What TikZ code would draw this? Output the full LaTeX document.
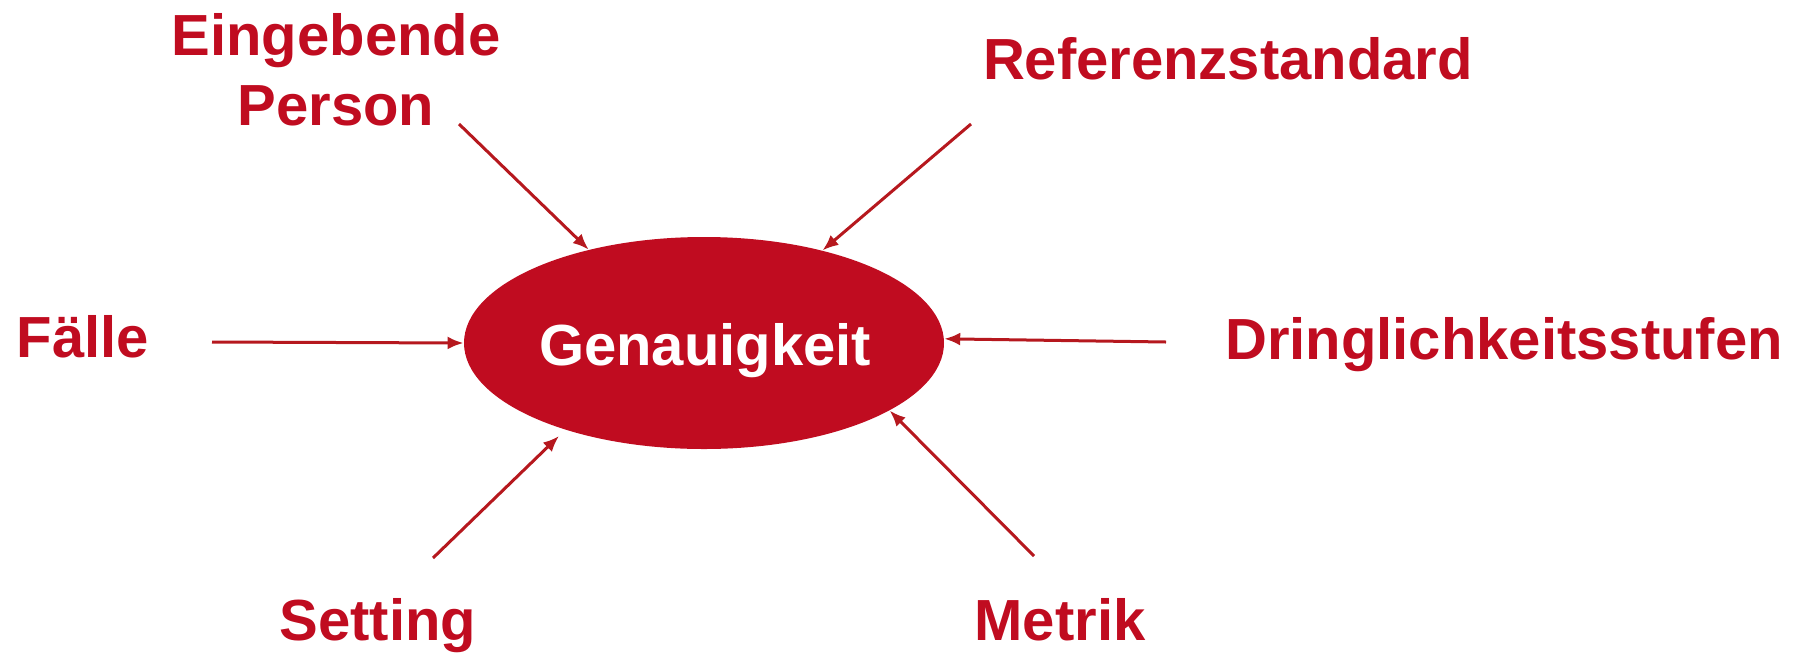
\documentclass[tikz,border=0pt]{standalone}
\usepackage{fontspec}
\setmainfont{Liberation Sans}
\usepackage{xcolor}
\usetikzlibrary{shapes.geometric,arrows.meta}
\definecolor{genred}{RGB}{192,12,32}
\definecolor{arrred}{RGB}{182,24,30}

\begin{document}
\begin{tikzpicture}[x=0.5pt, y=-0.5pt, >={Latex[length=8pt,width=6.5pt]},
  lbl/.style={text=genred, font=\fontsize{29}{35}\selectfont\bfseries, anchor=base, align=center, inner sep=0pt},
  arr/.style={->, draw=arrred, line width=1.5pt}]
  \useasboundingbox (0,0) rectangle (1816,654);

  \node[ellipse, fill=genred, minimum width=240pt, minimum height=106pt, inner sep=0pt]
    (gen) at (704,343) {};
  \node[lbl, text=white] (gentxt) at (705,365) {Genauigkeit};

  \node[lbl] (person) at (336,125) {Eingebende\\Person};
  \node[lbl] (ref) at (1228,79) {Referenzstandard};
  \node[lbl] (faelle) at (83,357) {Fälle};
  \node[lbl] (dring) at (1504,359) {Dringlichkeitsstufen};
  \node[lbl] (setting) at (378,640) {Setting};
  \node[lbl] (metrik) at (1060,640) {Metrik};

  % tails of the arrows
  \coordinate (tperson) at (459,124);
  \coordinate (tref) at (971,124);
  \coordinate (tfaelle) at (212,342);
  \coordinate (tdring) at (1166,342);
  \coordinate (tsetting) at (433,558);
  \coordinate (tmetrik) at (1034,556);

  \draw[arr] (tperson) -- (gen.141);
  \draw[arr] (tref) -- (gen.38);
  \draw[arr] (tfaelle) -- (gen.180);
  \draw[arr] (tdring) -- (gen.1);
  \draw[arr] (tsetting) -- ([shift={(-145,93)}]gen.center);
  \draw[arr] (tmetrik) -- (gen.340);
\end{tikzpicture}
\end{document}
